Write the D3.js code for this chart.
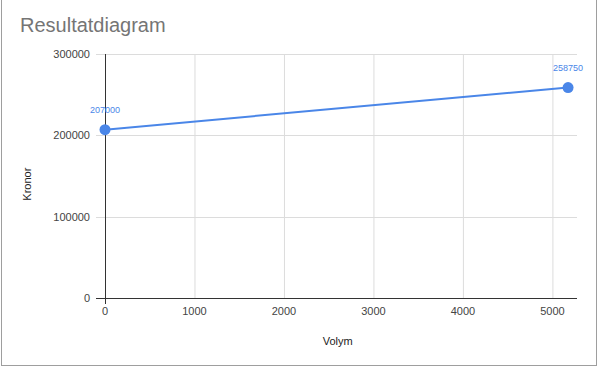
<!DOCTYPE html>
<head>
  <meta charset="utf-8">
  <script src="https://d3js.org/d3.v7.min.js"></script>
  <style>
    body { margin: 0; background: #fff; }
    svg { display: block; font-family: Arial, "Liberation Sans", sans-serif; }
  </style>
</head>
<body>
  <svg width="598" height="367"></svg>
  <script>
    // data
    var volym = [0, 5175];
    var kronor = [207000, 258750];
    var xTicks = [0, 1000, 2000, 3000, 4000, 5000];
    var yTicks = [0, 100000, 200000, 300000];

    var width = 598, height = 367;
    var margin = { top: 54, right: 21, bottom: 69, left: 105 };
    var svg = d3.select('svg');

    // outer border
    svg.append('rect')
      .attr('x', 1.5).attr('y', -1).attr('width', width - 3).attr('height', height - 0.5)
      .attr('fill', 'none').attr('stroke', '#9e9e9e');

    var x = d3.scaleLinear().domain([0, 5275]).range([margin.left, width - margin.right]);
    var y = d3.scaleLinear().domain([0, 300000]).range([height - margin.bottom, margin.top]);

    // gridlines
    svg.append('g').selectAll('line').data(xTicks.slice(1)).enter().append('line')
      .attr('x1', d => x(d) + 0.5).attr('x2', d => x(d) + 0.5)
      .attr('y1', y(300000)).attr('y2', y(0))
      .attr('stroke', '#dcdcdc');
    svg.append('g').selectAll('line').data(yTicks.slice(1)).enter().append('line')
      .attr('x1', margin.left - 9).attr('x2', width - margin.right)
      .attr('y1', d => Math.round(y(d)) + 0.5).attr('y2', d => Math.round(y(d)) + 0.5)
      .attr('stroke', '#dcdcdc');

    // axes
    svg.append('line')
      .attr('x1', margin.left - 9).attr('x2', width - margin.right)
      .attr('y1', Math.round(y(0)) + 0.5).attr('y2', Math.round(y(0)) + 0.5)
      .attr('stroke', '#333');
    svg.append('line')
      .attr('x1', x(0) + 0.5).attr('x2', x(0) + 0.5)
      .attr('y1', y(300000)).attr('y2', y(0) + 6)
      .attr('stroke', '#333');

    // tick labels
    svg.append('g').selectAll('text').data(yTicks).enter().append('text')
      .attr('x', margin.left - 15).attr('y', d => y(d) + 4)
      .attr('text-anchor', 'end').attr('font-size', 11).attr('fill', '#444')
      .text(d => d);
    svg.append('g').selectAll('text').data(xTicks).enter().append('text')
      .attr('x', d => x(d)).attr('y', y(0) + 17)
      .attr('text-anchor', 'middle').attr('font-size', 11).attr('fill', '#444')
      .text(d => d);

    // titles
    svg.append('text').attr('x', 20).attr('y', 32)
      .attr('font-size', 20).attr('fill', '#757575').text('Resultatdiagram');
    svg.append('text').attr('x', x(2600)).attr('y', 345)
      .attr('text-anchor', 'middle').attr('font-size', 11).attr('fill', '#222').text('Volym');
    svg.append('text').attr('transform', 'translate(31,' + y(140000) + ') rotate(-90)')
      .attr('text-anchor', 'middle').attr('font-size', 11).attr('fill', '#222').text('Kronor');

    // series
    var pts = volym.map((v, i) => ({ x: v, y: kronor[i] }));
    svg.append('path').datum(pts)
      .attr('d', d3.line().x(d => x(d.x)).y(d => y(d.y)))
      .attr('fill', 'none').attr('stroke', '#4a86e8').attr('stroke-width', 2);
    svg.append('g').selectAll('circle').data(pts).enter().append('circle')
      .attr('cx', d => x(d.x)).attr('cy', d => y(d.y)).attr('r', 5.5)
      .attr('fill', '#4a86e8');
    svg.append('g').selectAll('text').data(pts).enter().append('text')
      .attr('x', d => x(d.x)).attr('y', d => y(d.y) - 17)
      .attr('text-anchor', 'middle').attr('font-size', 9).attr('fill', '#4a86e8')
      .text(d => d.y);
  </script>
</body>
